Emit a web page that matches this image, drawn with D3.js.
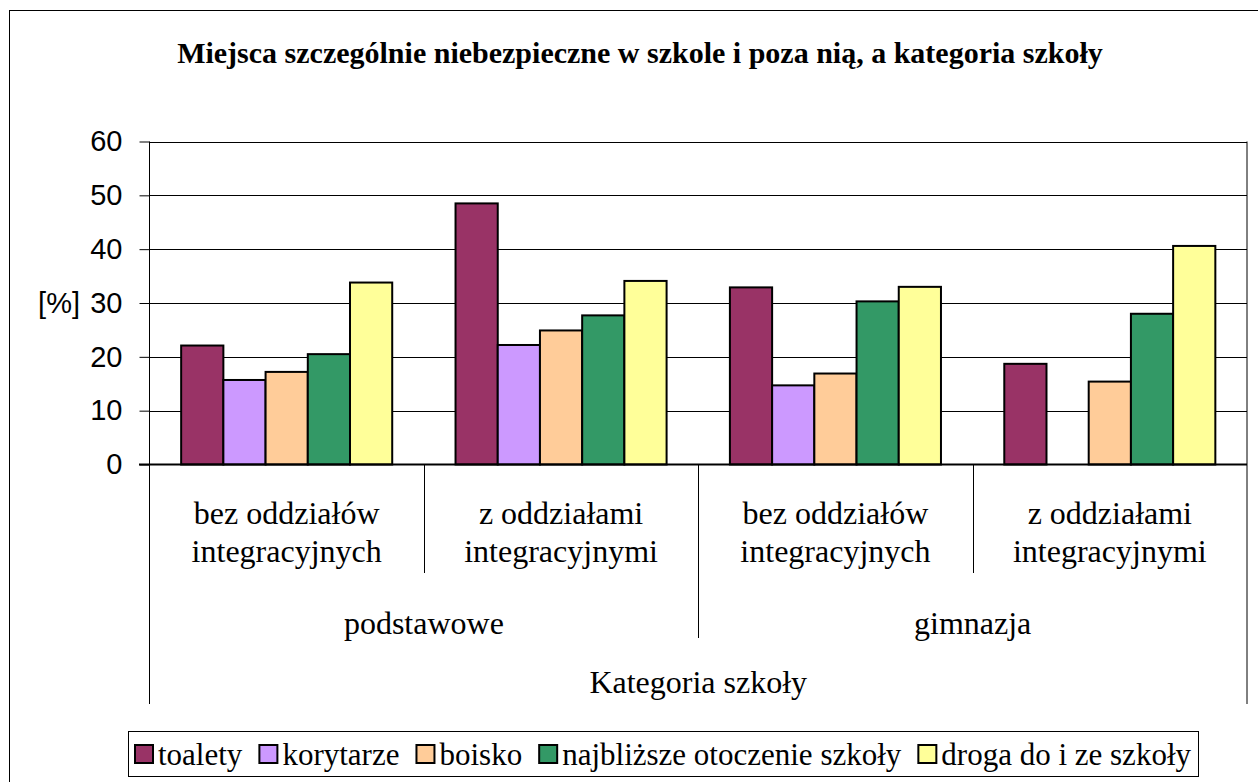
<!DOCTYPE html>
<html>
<head>
<meta charset="utf-8">
<script src="https://cdn.jsdelivr.net/npm/d3@7"></script>
<style>
  body { margin: 0; background: #fff; }
  svg { display: block; }
  .serif { font-family: "Times New Roman", Times, "Liberation Serif", "DejaVu Serif", serif; }
  .sans { font-family: "Liberation Sans", Arial, sans-serif; }
</style>
</head>
<body>
<div id="chart"></div>
<script>
// chart data
const categories = ["bez oddziałów|integracyjnych", "z oddziałami|integracyjnymi", "bez oddziałów|integracyjnych ", "z oddziałami|integracyjnymi "];
const groups = ["podstawowe", "gimnazja"];
const seriesNames = ["toalety", "korytarze", "boisko", "najbliższe otoczenie szkoły", "droga do i ze szkoły"];
const toalety = [22.1, 48.5, 32.9, 18.7];
const korytarze = [15.7, 22.2, 14.7, null];
const boisko = [17.2, 24.9, 16.9, 15.4];
const najblizsze = [20.5, 27.7, 30.3, 28.0];
const droga = [33.8, 34.1, 33.0, 40.6];
const yTicks = [0, 10, 20, 30, 40, 50, 60];
const colors = ["#993366", "#CC99FF", "#FFCC99", "#339966", "#FFFF99"];

const seriesValues = [toalety, korytarze, boisko, najblizsze, droga];

const width = 1258, height = 782;
const plot = { left: 149.5, right: 1247, top: 141.5, bottom: 464.5 };

const svg = d3.select("#chart").append("svg")
    .attr("width", width)
    .attr("height", height);

svg.append("rect").attr("width", width).attr("height", height).attr("fill", "#fff");

// outer frame
svg.append("rect")
    .attr("x", 9.5).attr("y", 10.5)
    .attr("width", 1300).attr("height", 800)
    .attr("fill", "none").attr("stroke", "#000").attr("stroke-width", 1);

// title
svg.append("text")
    .attr("class", "serif")
    .attr("x", 640).attr("y", 63)
    .attr("text-anchor", "middle")
    .attr("font-weight", "bold")
    .attr("font-size", 30)
    .text("Miejsca szczególnie niebezpieczne w szkole i poza nią, a kategoria szkoły");

const x0 = d3.scaleBand().domain(categories).range([plot.left, plot.right]).paddingInner(0).paddingOuter(0);
const x1 = d3.scaleBand().domain(seriesNames).range([0, x0.bandwidth()]).paddingInner(0).paddingOuter(0.75);
const y = d3.scaleLinear().domain([0, 60]).range([plot.bottom, plot.top]);

// gridlines
svg.append("g").selectAll("line")
    .data(yTicks.filter(d => d > 0))
    .join("line")
    .attr("x1", plot.left).attr("x2", plot.right)
    .attr("y1", d => Math.round(y(d)) + 0.5).attr("y2", d => Math.round(y(d)) + 0.5)
    .attr("stroke", "#000").attr("stroke-width", 1);

// y axis
const yAxis = svg.append("g")
    .attr("transform", `translate(${plot.left},0)`)
    .call(d3.axisLeft(y).tickValues(yTicks).tickSize(10).tickPadding(17));
yAxis.attr("font-family", null).attr("font-size", null).attr("class", "sans");
yAxis.select(".domain").remove();
yAxis.selectAll(".tick line").attr("stroke", "#000");
yAxis.selectAll(".tick text")
    .attr("font-size", 29)
    .attr("fill", "#000");

svg.append("text")
    .attr("class", "sans")
    .attr("x", 80).attr("y", y(30))
    .attr("dy", "0.35em")
    .attr("text-anchor", "end")
    .attr("font-size", 29)
    .text("[%]");

// bars
const barData = [];
categories.forEach((c, ci) => {
    seriesNames.forEach((s, si) => {
        const v = seriesValues[si][ci];
        if (v != null) barData.push({ cat: c, series: s, value: v, color: colors[si] });
    });
});

svg.append("g").selectAll("rect")
    .data(barData)
    .join("rect")
    .attr("x", d => x0(d.cat) + x1(d.series))
    .attr("y", d => y(d.value))
    .attr("width", x1.bandwidth())
    .attr("height", d => y(0) - y(d.value))
    .attr("fill", d => d.color)
    .attr("stroke", "#000")
    .attr("stroke-width", 2);

// axis frame lines
const frame = svg.append("g").attr("stroke", "#000").attr("stroke-width", 1);
frame.append("line").attr("x1", 139).attr("x2", plot.right).attr("y1", plot.bottom).attr("y2", plot.bottom).attr("stroke-width", 2);
frame.append("line").attr("x1", plot.left).attr("x2", plot.left).attr("y1", plot.top).attr("y2", 704);
frame.append("line").attr("x1", plot.right).attr("x2", plot.right).attr("y1", plot.top).attr("y2", 704);

// category dividers
[1, 3].forEach(i => {
    const xx = Math.round(x0(categories[i])) + 0.5;
    frame.append("line").attr("x1", xx).attr("x2", xx).attr("y1", plot.bottom).attr("y2", 573);
});
{
    const xx = Math.round(x0(categories[2])) + 0.5;
    frame.append("line").attr("x1", xx).attr("x2", xx).attr("y1", plot.bottom).attr("y2", 638);
}

// category labels
categories.forEach(c => {
    const cx = x0(c) + x0.bandwidth() / 2;
    const lines = c.trim().split("|");
    lines.forEach((ln, li) => {
        svg.append("text")
            .attr("class", "serif")
            .attr("x", cx).attr("y", 524 + li * 38)
            .attr("text-anchor", "middle")
            .attr("font-size", 32)
            .text(ln);
    });
});

// group labels
groups.forEach((g, gi) => {
    const cx = x0(categories[gi * 2]) + x0.bandwidth();
    svg.append("text")
        .attr("class", "serif")
        .attr("x", cx).attr("y", 634)
        .attr("text-anchor", "middle")
        .attr("font-size", 32)
        .text(g);
});

svg.append("text")
    .attr("class", "serif")
    .attr("x", (plot.left + plot.right) / 2).attr("y", 693)
    .attr("text-anchor", "middle")
    .attr("font-size", 32)
    .text("Kategoria szkoły");

// legend: box spans roughly x 128..1198 in the reference
const legend = svg.append("g");
const legendBox = legend.append("rect")
    .attr("fill", "#fff").attr("stroke", "#000").attr("stroke-width", 1);
const legendItems = seriesNames.map((s, i) => {
    const g = legend.append("g");
    g.append("rect")
        .attr("y", -9)
        .attr("width", 18).attr("height", 18)
        .attr("fill", colors[i]).attr("stroke", "#000").attr("stroke-width", 2);
    const t = g.append("text")
        .attr("class", "serif")
        .attr("x", 23).attr("y", 0)
        .attr("dy", "0.35em")
        .attr("font-size", 31)
        .text(s);
    return { g, w: 23 + t.node().getComputedTextLength() };
});
const legendLeft = 128, legendRight = 1198, pad = 7;
const textTotal = d3.sum(legendItems, d => d.w);
const gap = (legendRight - legendLeft - 2 * pad - textTotal) / (legendItems.length - 1);
let lx = 0;
legendItems.forEach(d => {
    d.g.attr("transform", `translate(${lx},0)`);
    lx += d.w + gap;
});
legend.attr("transform", `translate(${legendLeft + pad},754)`);
legendBox.attr("x", -pad + 0.5).attr("y", -22.5).attr("width", legendRight - legendLeft).attr("height", 45);
</script>
</body>
</html>
